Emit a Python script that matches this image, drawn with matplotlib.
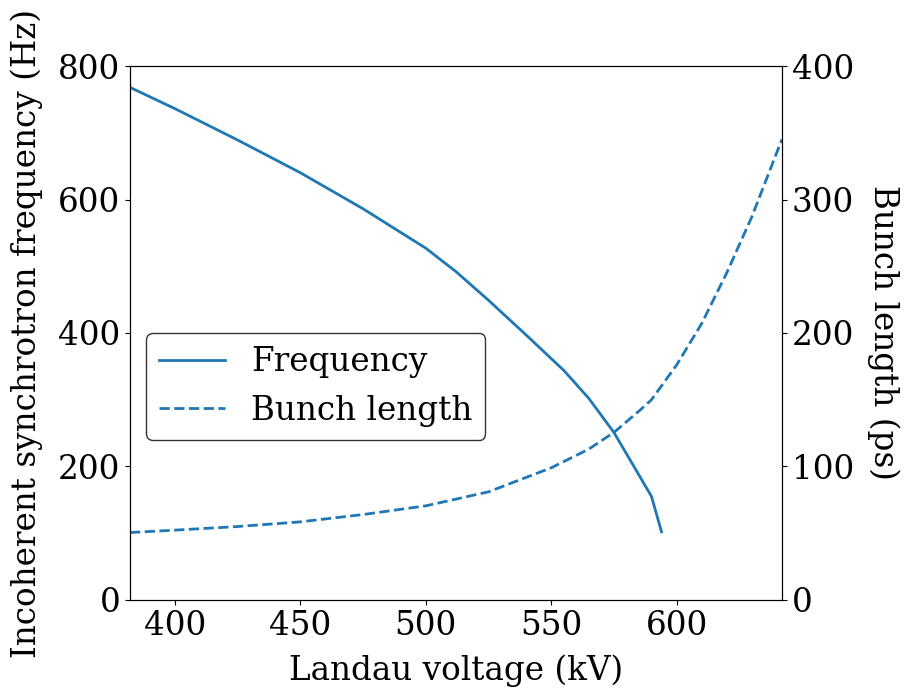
import numpy as np
import matplotlib
matplotlib.use("Agg")
import matplotlib.pyplot as plt
from matplotlib.ticker import MultipleLocator

plt.rcParams['font.family'] = 'DejaVu Serif'
plt.rcParams['font.size'] = 23.5

# Landau voltage (kV) and incoherent synchrotron frequency (Hz)
volt_freq = [382, 400, 425, 450, 475, 500, 512, 525, 540, 555, 565, 575, 583, 590, 594]
freq = [768, 736, 689, 640, 586, 527, 492, 449, 397, 344, 302, 251, 200, 155, 102]

# Landau voltage (kV) and bunch length (ps)
volt_bl = [382, 400, 425, 450, 475, 500, 525, 550, 565, 575, 585, 590, 600, 610, 620, 630, 642]
bunch_len = [50.5, 52.3, 55, 58.5, 64, 70.5, 81, 99, 113, 125.5, 141.5, 150, 176, 207, 245, 287, 345]

fig, ax = plt.subplots(figsize=(9.06, 6.88), dpi=100)
fig.subplots_adjust(left=0.1435, right=0.863, top=0.904, bottom=0.128)

l1, = ax.plot(volt_freq, freq, color='C0', lw=2, label='Frequency')
ax.set_xlim(382, 642)
ax.set_ylim(0, 800)
ax.yaxis.set_major_locator(MultipleLocator(200))
ax.xaxis.set_major_locator(MultipleLocator(50))
ax.set_xlabel('Landau voltage (kV)', labelpad=9)
ax.set_ylabel('Incoherent synchrotron frequency (Hz)', labelpad=11)

ax2 = ax.twinx()
l2, = ax2.plot(volt_bl, bunch_len, color='C0', ls='--', lw=2, label='Bunch length')
ax2.set_ylim(0, 400)
ax2.yaxis.set_major_locator(MultipleLocator(100))
ax2.set_ylabel('Bunch length (ps)', rotation=270, labelpad=33)

ax2.legend(handles=[l1, l2], loc='center left', bbox_to_anchor=(0, 0.4),
           edgecolor='#333333', framealpha=1)

fig.savefig('out.png', dpi=100)
